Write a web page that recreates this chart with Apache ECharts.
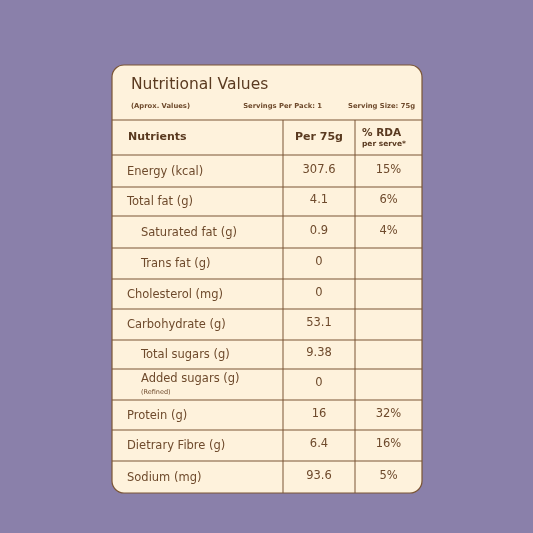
<!DOCTYPE html><html><head><meta charset="utf-8"><script src="https://cdn.jsdelivr.net/npm/echarts@6/dist/echarts.min.js"></script>
<style>html,body{margin:0;padding:0;background:#8a80aa}#c{width:533px;height:533px}</style></head><body><div id="c"></div>
<script>
const title = "Nutritional Values";
const subtitle = ["(Aprox. Values)", "Servings Per Pack: 1", "Serving Size: 75g"];
const headers = ["Nutrients", "Per 75g", "% RDA"];
const nutrients = ["Energy (kcal)", "Total fat (g)", "Saturated fat (g)", "Trans fat (g)", "Cholesterol (mg)", "Carbohydrate (g)", "Total sugars (g)", "Added sugars (g)", "Protein (g)", "Dietrary Fibre (g)", "Sodium (mg)"];
const indented = [false, false, true, true, false, false, true, true, false, false, false];
const perServe = ["307.6", "4.1", "0.9", "0", "0", "53.1", "9.38", "0", "16", "6.4", "93.6"];
const rda = ["15%", "6%", "4%", "", "", "", "", "", "32%", "16%", "5%"];

const chart = echarts.init(document.getElementById('c'));
const L = 112, R = 422, T = 65, B = 493, C1 = 283, C2 = 355;
const rowY = [120, 155, 187, 216, 248, 279, 309, 340, 369, 400, 430, 461, 493];
const brown = '#6e4a2c', line = '#7b5535', F = '"DejaVu Sans", sans-serif';
const g = [];
g.push({type:'rect', shape:{x:L, y:T, width:R-L, height:B-T, r:12}, style:{fill:'#fef2dc', stroke:line, lineWidth:1.2}});
g.push({type:'text', x:131, y:85, style:{text:title, font:'15.5px '+F, fill:'#5a3a20', textVerticalAlign:'middle'}});
g.push({type:'text', x:131, y:106, style:{text:subtitle[0], font:'bold 6.8px '+F, fill:brown, textVerticalAlign:'middle'}});
g.push({type:'text', x:322, y:106, style:{text:subtitle[1], font:'bold 6.8px '+F, fill:brown, textAlign:'right', textVerticalAlign:'middle'}});
g.push({type:'text', x:415, y:106, style:{text:subtitle[2], font:'bold 6.8px '+F, fill:brown, textAlign:'right', textVerticalAlign:'middle'}});
for (let i = 0; i < rowY.length - 1; i++) {
  g.push({type:'line', shape:{x1:L, y1:rowY[i], x2:R, y2:rowY[i]}, style:{stroke:line, lineWidth:1}});
}
g.push({type:'line', shape:{x1:C1, y1:rowY[0], x2:C1, y2:B}, style:{stroke:line, lineWidth:1}});
g.push({type:'line', shape:{x1:C2, y1:rowY[0], x2:C2, y2:B}, style:{stroke:line, lineWidth:1}});
const hy = (rowY[0]+rowY[1])/2;
g.push({type:'text', x:128, y:hy, style:{text:headers[0], font:'bold 11px '+F, fill:'#5a3a20', textVerticalAlign:'middle'}});
g.push({type:'text', x:(C1+C2)/2, y:hy, style:{text:headers[1], font:'bold 11px '+F, fill:'#5a3a20', textAlign:'center', textVerticalAlign:'middle'}});
g.push({type:'text', x:362, y:hy-4, style:{text:headers[2], font:'bold 10.5px '+F, fill:'#5a3a20', textVerticalAlign:'middle'}});
g.push({type:'text', x:362, y:hy+7, style:{text:'per serve*', font:'bold 7.5px '+F, fill:'#5a3a20', textVerticalAlign:'middle'}});
nutrients.forEach((n, i) => {
  const cy = (rowY[i+1]+rowY[i+2])/2 + 1;
  const x = indented[i] ? 141 : 127;
  if (n === "Added sugars (g)") {
    g.push({type:'text', x:x, y:cy-6, style:{text:n, font:'11.5px '+F, fill:brown, textVerticalAlign:'middle'}});
    g.push({type:'text', x:x, y:cy+7, style:{text:'(Refined)', font:'6.5px '+F, fill:brown, textVerticalAlign:'middle'}});
  } else {
    g.push({type:'text', x:x, y:cy, style:{text:n, font:'11.5px '+F, fill:brown, textVerticalAlign:'middle'}});
  }
  g.push({type:'text', x:(C1+C2)/2, y:cy-2, style:{text:perServe[i], font:'11.5px '+F, fill:brown, textAlign:'center', textVerticalAlign:'middle'}});
  if (rda[i]) g.push({type:'text', x:(C2+R)/2, y:cy-2, style:{text:rda[i], font:'11.5px '+F, fill:brown, textAlign:'center', textVerticalAlign:'middle'}});
});
chart.setOption({backgroundColor:'#8a80aa', graphic:{elements:g}});
</script></body></html>
